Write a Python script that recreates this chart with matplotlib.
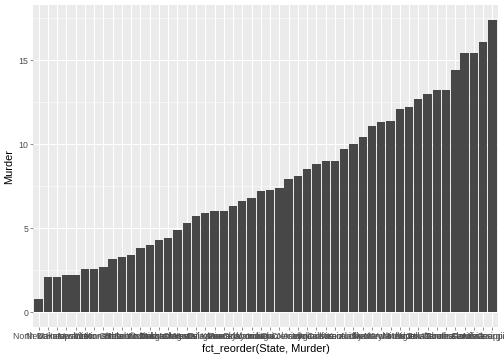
import numpy as np
import matplotlib
matplotlib.use("Agg")
import matplotlib.pyplot as plt

plt.rcParams['font.family'] = ['Liberation Sans', 'DejaVu Sans']

# USArrests, ordered by murder rate
states = ["North Dakota", "Maine", "New Hampshire", "Iowa", "Vermont", "Idaho",
          "Wisconsin", "Minnesota", "Utah", "Connecticut", "Rhode Island",
          "South Dakota", "Washington", "Nebraska", "Massachusetts", "Oregon",
          "Hawaii", "West Virginia", "Delaware", "Kansas", "Montana",
          "Pennsylvania", "Oklahoma", "Wyoming", "Indiana", "Ohio", "New Jersey",
          "Colorado", "Arizona", "Virginia", "Arkansas", "California", "Missouri",
          "Kentucky", "Alaska", "Illinois", "New York", "Maryland", "New Mexico",
          "Michigan", "Nevada", "Texas", "North Carolina", "Alabama", "Tennessee",
          "South Carolina", "Florida", "Louisiana", "Mississippi", "Georgia"]
murder = [0.8, 2.1, 2.1, 2.2, 2.2, 2.6, 2.6, 2.7, 3.2, 3.3, 3.4, 3.8, 4.0, 4.3,
          4.4, 4.9, 5.3, 5.7, 5.9, 6.0, 6.0, 6.3, 6.6, 6.8, 7.2, 7.3, 7.4, 7.9,
          8.1, 8.5, 8.8, 9.0, 9.0, 9.7, 10.0, 10.4, 11.1, 11.3, 11.4, 12.1, 12.2,
          12.7, 13.0, 13.2, 13.2, 14.4, 15.4, 15.4, 16.1, 17.4]
y_ticks = [0, 5, 10, 15]

fig = plt.figure(figsize=(7, 5), dpi=72)
ax = fig.add_axes([0.0655, 0.0917, 0.9225, 0.8943])
ax.set_facecolor("#EBEBEB")

x = np.arange(1, len(states) + 1)
ax.bar(x, murder, width=0.9, color="#474747", zorder=3)

ymax = max(murder)
pad = 0.05 * ymax
ax.set_ylim(-pad, ymax + pad)
ax.set_xlim(0.4, len(states) + 0.6)

# grid
for v in y_ticks:
    ax.axhline(v, color="white", lw=1.07, zorder=1)
for v in np.arange(2.5, ymax + pad, 5):
    ax.axhline(v, color="white", lw=0.53, zorder=1)
for v in x:
    ax.axvline(v, color="white", lw=1.07, zorder=1)

ax.set_yticks(y_ticks)
ax.set_xticks(x)
ax.set_xticklabels(states)
ax.tick_params(axis="both", color="#333333", length=2.75, width=0.53,
               labelcolor="#4D4D4D", labelsize=8.8, pad=2.2)
for s in ax.spines.values():
    s.set_visible(False)

ax.set_xlabel("fct_reorder(State, Murder)", fontsize=11, labelpad=3)
ax.set_ylabel("Murder", fontsize=11, labelpad=4)

fig.savefig("out.png", dpi=72)
